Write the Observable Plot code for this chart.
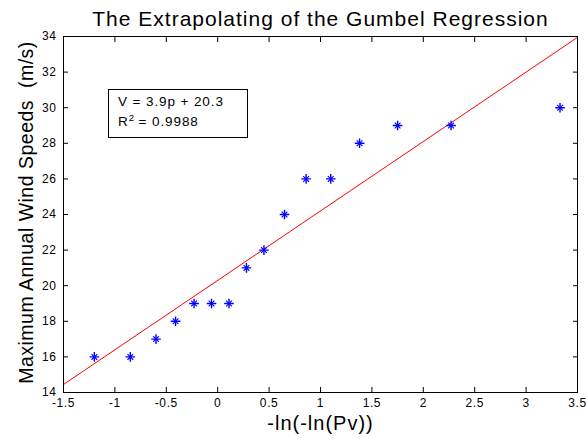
<!DOCTYPE html>
<html><head><meta charset="utf-8">
<script src="https://cdn.jsdelivr.net/npm/d3@7"></script>
<script src="https://cdn.jsdelivr.net/npm/@observablehq/plot@0.6"></script>
<style>
body{margin:0;background:#fff;}
#wrap{position:relative;width:587px;height:439px;font-family:"Liberation Sans",Arial,sans-serif;}
#box{position:absolute;left:108px;top:89px;width:129px;height:45px;border:1px solid #000;background:#fff;font-size:13.5px;letter-spacing:0.9px;line-height:20px;padding:2px 0 0 9px;box-sizing:content-box;}
#box sup{font-size:9.5px;line-height:0;letter-spacing:0;}
.tk text{letter-spacing:0.6px;}
</style></head>
<body><div id="wrap"><div id="box">V = 3.9p + 20.3<br>R<sup>2</sup> = 0.9988</div></div>
<script>
const obsX = [-1.20, -0.85, -0.60, -0.41, -0.23, -0.06, 0.11, 0.28, 0.45, 0.65, 0.86, 1.10, 1.38, 1.75, 2.27, 3.33];
const obsY = [16, 16, 17, 18, 19, 19, 19, 21, 22, 24, 26, 26, 28, 29, 29, 30];
const fitX = [-1.5, 3.5];
const fitY = [14.45, 33.95];
const xTicks = [-1.5, -1, -0.5, 0, 0.5, 1, 1.5, 2, 2.5, 3, 3.5];
const yTicks = [14, 16, 18, 20, 22, 24, 26, 28, 30, 32, 34];
const title = "The Extrapolating of the Gumbel Regression";
const xLabel = "-ln(-ln(Pv))";
const yLabel = "Maximum Annual Wind Speeds  (m/s)";

const pts = obsX.map((x, i) => ({x, y: obsY[i]}));
const fit = fitX.map((x, i) => ({x, y: fitY[i]}));
const fmt = d => String(d);

const chart = Plot.plot({
  width: 587, height: 439,
  marginLeft: 63, marginRight: 10, marginTop: 36, marginBottom: 47,
  style: {fontFamily: "Liberation Sans, Arial, sans-serif", fontSize: "12px", color: "#000", background: "#fff", overflow: "visible"},
  x: {domain: [-1.5, 3.5]},
  y: {domain: [14, 34]},
  marks: [
    Plot.line(fit, {x: "x", y: "y", stroke: "#ff0000", strokeWidth: 1}),
    Plot.dot(pts, {x: "x", y: "y", symbol: "plus", r: 3.2, stroke: "#0000ff", strokeWidth: 1.4}),
    Plot.dot(pts, {x: "x", y: "y", symbol: "times", r: 2.7, stroke: "#0000ff", strokeWidth: 1.1}),
    Plot.frame({stroke: "#000", strokeWidth: 1}),
    Plot.axisX(xTicks, {anchor: "bottom", tickSize: -5, tickPadding: 11, tickFormat: fmt, label: null, fontSize: 12, className: "tk"}),
    Plot.axisX(xTicks, {anchor: "top", tickSize: -5, tickFormat: () => "", label: null}),
    Plot.axisY(yTicks, {anchor: "left", tickSize: -5, tickPadding: 12, tickFormat: fmt, label: null, fontSize: 12, className: "tk"}),
    Plot.axisY(yTicks, {anchor: "right", tickSize: -5, tickFormat: () => "", label: null}),
    Plot.text([title], {frameAnchor: "top", lineAnchor: "middle", dy: -17, text: d => d, fontSize: 21, className: "ttl"}),
    Plot.text([xLabel], {frameAnchor: "bottom", lineAnchor: "middle", dy: 31.5, text: d => d, fontSize: 20, className: "xl"}),
    Plot.text([yLabel], {frameAnchor: "left", lineAnchor: "middle", textAnchor: "middle", dx: -37, dy: -2, rotate: -90, text: d => d, fontSize: 19.5, className: "yl"})
  ]
});
document.getElementById("wrap").prepend(chart);
chart.style.position = "absolute"; chart.style.left = "0"; chart.style.top = "0";
const css = document.createElement("style");
css.textContent = ".ttl text{letter-spacing:1px}.xl text{letter-spacing:1px}.yl text{letter-spacing:0.5px}";
document.head.appendChild(css);
</script>
</body></html>
